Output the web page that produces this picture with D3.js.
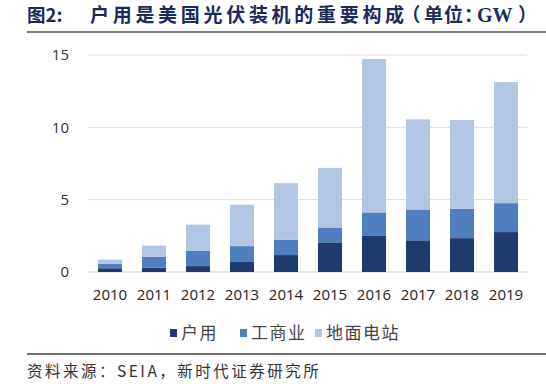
<!DOCTYPE html>
<html>
<head>
<meta charset="utf-8">
<script src="https://cdn.jsdelivr.net/npm/d3@7"></script>
<style>
  body { margin: 0; background: #fff; }
  svg { display: block; }
  .halt { font-feature-settings: "halt"; }
</style>
</head>
<body>
<div id="chart"></div>
<script>
let W = 546, H = 384;
let years = ["2010","2011","2012","2013","2014","2015","2016","2017","2018","2019"];
let residential = [0.26, 0.30, 0.41, 0.69, 1.17, 2.05, 2.53, 2.19, 2.34, 2.76];
let commercial  = [0.32, 0.76, 1.07, 1.10, 1.06, 1.03, 1.59, 2.13, 2.03, 2.00];
let utility     = [0.28, 0.76, 1.79, 2.86, 3.91, 4.12, 10.60, 6.23, 6.14, 8.37];
let seriesNames = ["户用", "工商业", "地面电站"];
let colors = ["#1f3a6e", "#4f7fbf", "#b2c6e4"];
let yTicks = [0, 5, 10, 15];

let rows = years.map(function(y, i) {
  return { year: y, "户用": residential[i], "工商业": commercial[i], "地面电站": utility[i] };
});

let svg = d3.select("#chart").append("svg")
  .attr("width", W).attr("height", H);

// title, drawn in pieces so the spacing follows the reference
let titleFont = "'Noto Sans CJK SC', sans-serif";
let titleColor = "#1c2b5e";
function titlePiece(tx, str, opts) {
  let t = svg.append("text")
    .attr("x", tx).attr("y", 22)
    .attr("font-family", opts.font || titleFont)
    .attr("font-size", opts.size || 19).attr("font-weight", "bold")
    .attr("fill", titleColor)
    .text(str);
  if (opts.ls) t.attr("letter-spacing", opts.ls);
  if (opts.halt) t.attr("class", "halt");
  return t;
}
titlePiece(27, "图2:", {size: 18.5});
titlePiece(90, "户用是美国光伏装机的重要构成", {ls: 3.7});
titlePiece(411, "（", {halt: true});
titlePiece(424, "单", {});
titlePiece(444, "位", {});
titlePiece(464, "：", {halt: true});
titlePiece(477, "GW", {font: "'Liberation Serif', serif", size: 20});
titlePiece(518, "）", {halt: true});

svg.append("line")
  .attr("x1", 27).attr("x2", W).attr("y1", 32).attr("y2", 32)
  .attr("stroke", "#555").attr("stroke-width", 1.5);

let x = d3.scaleBand().domain(years).range([88, 528]).paddingInner(0.455).paddingOuter(0.227);
let y = d3.scaleLinear().domain([0, 15]).range([272, 55]);

// grid
svg.append("g")
  .selectAll("line")
  .data(yTicks)
  .enter().append("line")
  .attr("x1", 88).attr("x2", 527)
  .attr("y1", d => y(d)).attr("y2", d => y(d))
  .attr("stroke", d => d === 0 ? "#cfcfcf" : "#dedede")
  .attr("stroke-width", 1);

// y labels
let yAxis = svg.append("g")
  .attr("transform", "translate(69,0)")
  .call(d3.axisLeft(y).tickValues(yTicks).tickSize(0).tickPadding(0));
yAxis.select(".domain").remove();
yAxis.selectAll("text")
  .attr("font-family", "'Open Sans', sans-serif")
  .attr("font-size", 15).attr("fill", "#333");

let stack = d3.stack().keys(seriesNames)(rows);

svg.append("g").selectAll("g")
  .data(stack)
  .enter().append("g")
  .attr("fill", (d, i) => colors[i])
  .selectAll("rect")
  .data(d => d)
  .enter().append("rect")
  .attr("x", d => x(d.data.year))
  .attr("width", x.bandwidth())
  .attr("y", d => y(d[1]))
  .attr("height", d => y(d[0]) - y(d[1]));

// x labels
let xAxis = svg.append("g")
  .attr("transform", "translate(0,288)")
  .call(d3.axisBottom(x).tickSize(0).tickPadding(0));
xAxis.select(".domain").remove();
xAxis.selectAll("text")
  .attr("font-family", "'Open Sans', sans-serif")
  .attr("font-size", 15).attr("fill", "#222")
  .attr("dy", "0.82em");

// legend
let legendX = [170, 240, 315];
let leg = svg.append("g").selectAll("g")
  .data(seriesNames)
  .enter().append("g")
  .attr("transform", (d, i) => "translate(" + legendX[i] + ",333)");
leg.append("rect")
  .attr("x", 0).attr("y", -4).attr("width", 7).attr("height", 8)
  .attr("fill", (d, i) => colors[i]);
leg.append("text")
  .attr("x", 11).attr("y", 6)
  .attr("font-family", "'Noto Sans CJK SC', sans-serif")
  .attr("font-size", 17).attr("fill", "#444")
  .attr("letter-spacing", 1.5)
  .text(d => d);

// footer
svg.append("line")
  .attr("x1", 27).attr("x2", W).attr("y1", 354).attr("y2", 354)
  .attr("stroke", "#444").attr("stroke-width", 1.5);
svg.append("text")
  .attr("x", 27).attr("y", 377)
  .attr("font-family", "'Noto Sans CJK SC', sans-serif")
  .attr("font-size", 15.5).attr("fill", "#333")
  .attr("letter-spacing", 2.5)
  .text("资料来源：SEIA，新时代证券研究所");
</script>
</body>
</html>
